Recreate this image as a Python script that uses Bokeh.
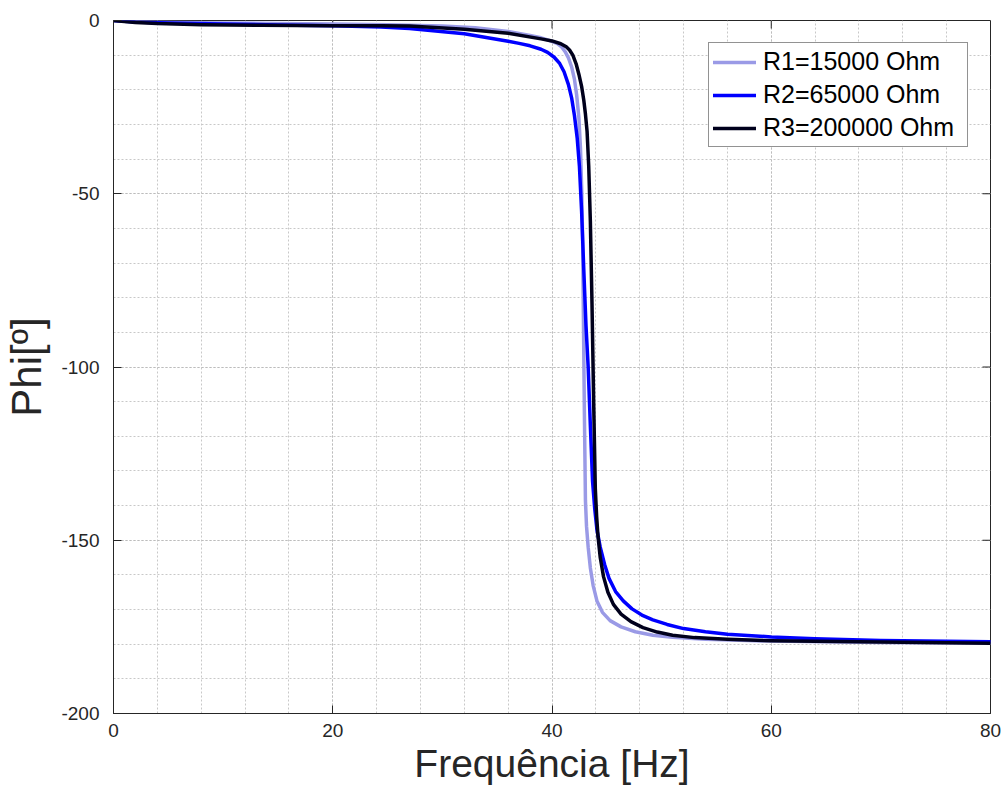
import math
from bokeh.plotting import figure
from bokeh.models import Range1d, SingleIntervalTicker, Legend, LegendItem
from bokeh.embed import file_html
from bokeh.resources import INLINE

# Phase response (degrees) vs frequency (Hz) for three resistor values
f_r1 = [0, 2, 5, 10, 15, 20, 25, 30, 33, 36, 38, 39, 40, 40.5, 40.9, 41.2, 41.5, 41.8,
        42.05, 42.25, 42.45, 42.6, 42.72, 42.8, 42.88, 42.95, 43.05, 43.15, 43.3, 43.5,
        43.75, 44.1, 44.6, 45.3, 46.3, 47.6, 49.2, 51, 54, 60, 70, 80]
phi_r1 = [0, -0.3, -0.5, -0.7, -0.9, -1.0, -1.2, -1.6, -2.1, -3.2, -4.3, -5.0, -6.0,
          -6.7, -7.7, -9.0, -10.8, -13.5, -17, -21.5, -28, -37, -50, -65, -90, -112,
          -138.5, -146, -152, -158, -163, -167.5, -170.8, -173.2, -175, -176.4, -177.4,
          -178, -178.6, -179.1, -179.5, -179.7]

f_r2 = [0, 2, 5, 10, 15, 20, 24.4, 27, 32, 36, 37, 38, 39, 39.6, 40.2, 40.7, 41.1, 41.5,
        41.8, 42.05, 42.3, 42.5, 42.7, 42.9, 43.1, 43.3, 43.5, 43.7, 43.9, 44.1, 44.4,
        44.8, 45.2, 45.8, 46.5, 47.3, 48.2, 49.2, 50.5, 52, 54, 56, 60, 64, 70, 80]
phi_r2 = [0, -0.4, -0.7, -1.0, -1.3, -1.55, -1.9, -2.3, -3.8, -6.0, -6.6, -7.3, -8.3,
          -9.2, -10.6, -12.4, -14.8, -18.5, -22.5, -27.5, -34, -42, -55, -72, -88, -100,
          -117, -133, -141, -147, -152, -157, -161, -164.8, -167.5, -169.8, -171.6, -173,
          -174.3, -175.5, -176.4, -177.1, -177.9, -178.4, -178.9, -179.3]

f_r3 = [0, 2, 4, 8, 13.5, 20, 24.4, 27, 32, 36, 39, 40, 40.8, 41.3, 41.6, 41.9, 42.2,
        42.45, 42.7, 42.9, 43.05, 43.2, 43.35, 43.5, 43.65, 43.8, 43.95, 44.07, 44.2,
        44.4, 44.7, 45.1, 45.6, 46.3, 47.2, 48.3, 49.6, 51, 53, 56, 60, 70, 80]
phi_r3 = [0, -0.6, -0.9, -1.2, -1.4, -1.5, -1.5, -1.6, -2.5, -3.7, -5.3, -5.9, -6.7,
          -7.6, -8.5, -10, -12.5, -15.5, -19, -23, -27, -32, -42, -58, -82, -110, -135,
          -143, -149, -155, -160.5, -165, -168.5, -171.3, -173.5, -175.2, -176.5, -177.4,
          -178.1, -178.6, -179.0, -179.4, -179.7]

series_labels = ["R1=15000 Ohm", "R2=65000 Ohm", "R3=200000 Ohm"]
series_colors = ["#9a9ae6", "#0000ff", "#00001c"]

x_ticks = [0, 20, 40, 60, 80]
y_ticks = [-200, -150, -100, -50, 0]

FONT = "Liberation Sans"
AXIS_COLOR = "#262626"

p = figure(width=1003, height=791, output_backend="svg", toolbar_location=None,
           x_range=Range1d(0, 80), y_range=Range1d(-200, 0),
           min_border_left=112, min_border_right=13, min_border_top=20,
           min_border_bottom=78)
p.outline_line_color = AXIS_COLOR
p.outline_line_width = 1
p.background_fill_color = "white"
p.border_fill_color = "white"

xt = SingleIntervalTicker(interval=20, num_minor_ticks=5)
yt = SingleIntervalTicker(interval=50, num_minor_ticks=5)
p.xaxis.ticker = xt
p.yaxis.ticker = yt
p.xgrid.ticker = xt
p.ygrid.ticker = yt

for g in (p.xgrid, p.ygrid):
    g.grid_line_color = "#bcbcbc"
    g.grid_line_dash = "2 2"
    g.grid_line_width = 1
    g.minor_grid_line_color = "#c8c8c8"
    g.minor_grid_line_dash = "2 2"
    g.minor_grid_line_width = 1

p.xaxis.major_label_overrides = {v: str(v) for v in x_ticks}
p.yaxis.major_label_overrides = {v: str(v) for v in y_ticks}

for ax in (p.xaxis, p.yaxis):
    ax.axis_line_color = AXIS_COLOR
    ax.major_tick_line_color = AXIS_COLOR
    ax.major_tick_in = 8
    ax.major_tick_out = 0
    ax.minor_tick_line_color = None
    ax.major_label_text_font = FONT
    ax.major_label_text_font_size = "19px"
    ax.major_label_text_color = AXIS_COLOR
    ax.axis_label_text_font = FONT
    ax.axis_label_text_font_style = "normal"
    ax.axis_label_text_color = AXIS_COLOR

p.xaxis.axis_label = "Frequência [Hz]"
p.xaxis.axis_label_text_font_size = "39px"
p.xaxis.major_label_standoff = 6
p.xaxis.axis_label_standoff = 2
p.yaxis.axis_label = "Phi[º]"
p.yaxis.axis_label_text_font_size = "42px"
p.yaxis.major_label_standoff = 10
p.yaxis.axis_label_standoff = 8

# Inward tick marks along the top and right edges of the box
top_x = x_ticks[1:-1]
p.ray(x=top_x, y=[y_ticks[-1]] * len(top_x), length=8, length_units="screen",
      angle=-math.pi / 2, line_color=AXIS_COLOR, line_width=1)
right_y = y_ticks[1:-1]
p.ray(x=[x_ticks[-1]] * len(right_y), y=right_y, length=8, length_units="screen",
      angle=math.pi, line_color=AXIS_COLOR, line_width=1)

renderers = []
for fx, ph, col in zip((f_r1, f_r2, f_r3), (phi_r1, phi_r2, phi_r3), series_colors):
    r = p.line(fx, ph, line_color=col, line_width=3.5, line_join="round", line_cap="round")
    renderers.append(r)

legend = Legend(items=[LegendItem(label=lab, renderers=[r])
                       for lab, r in zip(series_labels, renderers)],
                location="top_right")
legend.label_text_font = FONT
legend.label_text_font_size = "25px"
legend.label_text_color = "black"
legend.glyph_width = 43
legend.glyph_height = 26
legend.label_standoff = 7
legend.label_width = 200
legend.padding = 4
legend.spacing = 4
legend.margin = 22
legend.border_line_color = AXIS_COLOR
legend.border_line_width = 1
legend.background_fill_color = "white"
legend.background_fill_alpha = 1
p.add_layout(legend)

open("out.html", "w").write(file_html(p, INLINE))
